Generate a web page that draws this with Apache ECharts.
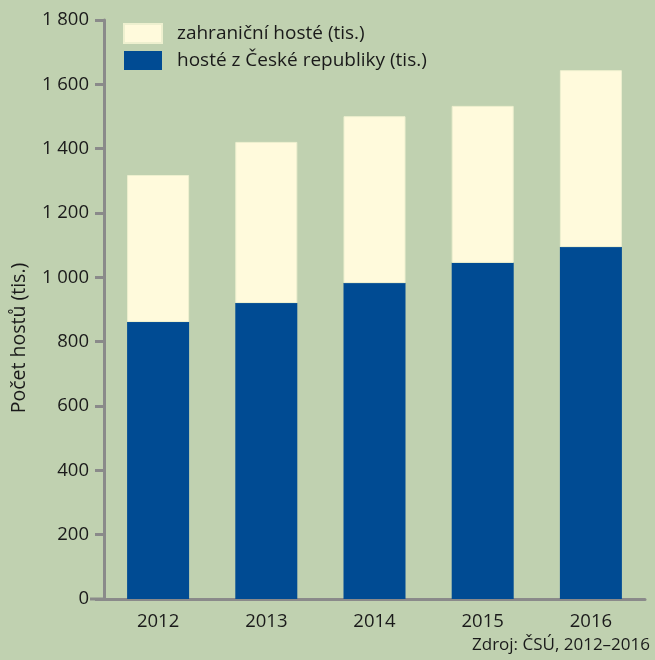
<!DOCTYPE html>
<html>
<head>
<meta charset="utf-8">
<script src="https://cdn.jsdelivr.net/npm/echarts@6/dist/echarts.min.js"></script>
<style>
  html, body { margin: 0; padding: 0; background: #c0d1b0; }
  #chart { width: 655px; height: 660px; }
</style>
</head>
<body>
<div id="chart"></div>
<script>
// Guests per year, thousands
const years = ['2012', '2013', '2014', '2015', '2016'];
const domesticGuests = [861, 920, 982, 1045, 1094];
const foreignGuests = [457, 501, 519, 488, 550];
const yTicks = [0, 200, 400, 600, 800, 1000, 1200, 1400, 1600, 1800];

const FONT = '"Open Sans", sans-serif';
const TEXT = '#1a1a1a';
const AXIS = '#8a8a8a';

const fmt = v => String(v).replace(/\B(?=(\d{3})+(?!\d))/g, ' ');

const chart = echarts.init(document.getElementById('chart'));
chart.setOption({
  backgroundColor: '#c0d1b0',
  animation: false,
  textStyle: { fontFamily: FONT },
  grid: { left: 104, right: 10, top: 20, bottom: 61, containLabel: false },
  legend: {
    orient: 'vertical',
    left: 123,
    top: 23,
    itemWidth: 38,
    itemHeight: 19,
    itemGap: 7,
    padding: 0,
    icon: 'rect',
    textStyle: { fontFamily: FONT, fontSize: 19, color: TEXT, padding: [0, 0, 0, 10] },
    data: ['zahraniční hosté (tis.)', 'hosté z České republiky (tis.)']
  },
  xAxis: {
    type: 'category',
    data: years,
    axisLine: { lineStyle: { color: AXIS, width: 3 } },
    axisTick: { show: false },
    axisLabel: { fontFamily: FONT, fontSize: 18.5, color: TEXT, margin: 13 },
    splitLine: { show: false }
  },
  yAxis: {
    type: 'value',
    min: yTicks[0],
    max: yTicks[yTicks.length - 1],
    interval: 200,
    axisLine: { show: true, lineStyle: { color: AXIS, width: 3 } },
    axisTick: { show: true, length: 9, lineStyle: { color: AXIS, width: 3 } },
    axisLabel: { fontFamily: FONT, fontSize: 18.5, color: TEXT, margin: 15, formatter: fmt },
    splitLine: { show: false }
  },
  graphic: [
    {
      type: 'line',
      shape: { x1: 90, y1: 599, x2: 104, y2: 599 },
      style: { stroke: AXIS, lineWidth: 3 }
    },
    {
      type: 'text',
      x: 19, y: 338,
      rotation: Math.PI / 2,
      style: {
        text: 'Počet hostů (tis.)',
        font: '19.5px ' + FONT,
        fill: TEXT,
        textAlign: 'center',
        textVerticalAlign: 'middle'
      }
    },
    {
      type: 'text',
      right: 5, top: 637,
      style: {
        text: 'Zdroj: ČSÚ, 2012–2016',
        font: '17px ' + FONT,
        fill: TEXT
      }
    }
  ],
  series: [
    {
      name: 'hosté z České republiky (tis.)',
      type: 'bar',
      stack: 'total',
      barWidth: 62,
      data: domesticGuests,
      itemStyle: { color: '#004b93' }
    },
    {
      name: 'zahraniční hosté (tis.)',
      type: 'bar',
      stack: 'total',
      barWidth: 62,
      data: foreignGuests,
      itemStyle: { color: '#fffadc', borderColor: '#eef0cf', borderWidth: 1 }
    }
  ]
});
</script>
</body>
</html>
